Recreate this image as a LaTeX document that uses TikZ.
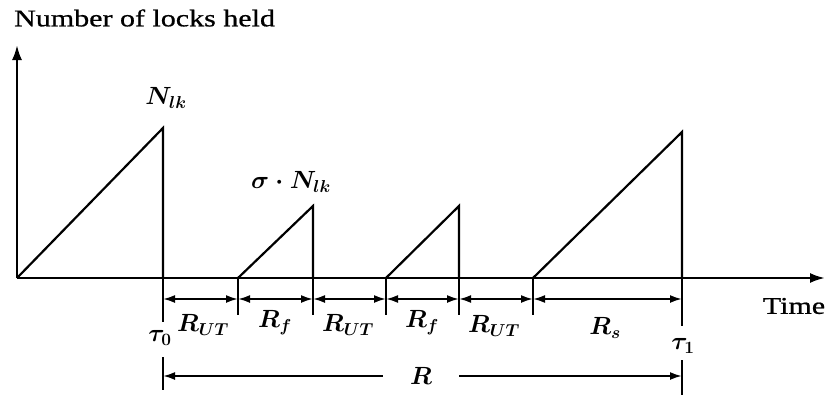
\documentclass[tikz,border=0pt]{standalone}
\usepackage{fontspec}
\setmainfont{Liberation Serif}
\newfontfamily\labfont[FakeStretch=1.25,FakeBold=0.8]{Liberation Serif}
\usetikzlibrary{arrows.meta}
\begin{document}
\begin{tikzpicture}[x=1pt,y=-1pt,
  curve/.style={line width=2.2pt},
  axis/.style={line width=2.4pt,-{Latex[length=15pt,width=10pt]}},
  dim/.style={line width=2pt,{Latex[length=12pt,width=8pt]}-{Latex[length=12pt,width=8pt]}},
  half/.style={line width=2pt,-{Latex[length=12pt,width=8pt]}},
  tick/.style={line width=2.2pt},
  lab/.style={font=\fontsize{25}{28}\selectfont\boldmath, inner sep=0pt},
  txt/.style={font=\labfont\fontsize{24}{27}\selectfont, inner sep=0pt}]
\useasboundingbox (0,0) rectangle (827,399);
% axes
\coordinate (O) at (17,278);
\coordinate (ytop) at (17,45);
\coordinate (xend) at (825,278);
\draw[axis] (O) -- (ytop);
\draw[axis] (O) -- (xend);
\node[txt, anchor=west] (ylab) at (14,18) {Number of locks held};
\node[txt] (xlab) at (794,306) {Time};
% teeth
\coordinate (a1) at (163,128); \coordinate (b1) at (163,278);
\coordinate (s2) at (238,278); \coordinate (a2) at (313,206); \coordinate (b2) at (313,278);
\coordinate (s3) at (386,278); \coordinate (a3) at (459,206); \coordinate (b3) at (459,278);
\coordinate (s4) at (533,278); \coordinate (a4) at (682,132); \coordinate (b4) at (682,278);
\draw[curve] (O) -- (a1) -- (b1);
\draw[curve] (s2) -- (a2) -- (b2);
\draw[curve] (s3) -- (a3) -- (b3);
\draw[curve] (s4) -- (a4) -- (b4);
\node[lab] (nlk) at (166,98) {$N_{lk}$};
\node[lab] (snlk) at (291,182) {$\sigma\cdot N_{lk}$};
% ticks and dimension arrows
\foreach \i/\x/\e in {1/163/322,2/238/315,3/313/315,4/386/315,5/459/315,6/533/315,7/682/326}{
  \coordinate (t\i) at (\x,278);
  \coordinate (d\i) at (\x,299);
  \coordinate (e\i) at (\x,\e);
  \draw[tick] (t\i) -- (e\i);
}
\draw[dim] (d1) -- (d2);
\draw[dim] (d2) -- (d3);
\draw[dim] (d3) -- (d4);
\draw[dim] (d4) -- (d5);
\draw[dim] (d5) -- (d6);
\draw[dim] (d6) -- (d7);
\node[lab] (r1) at (203,325) {$R_{UT}$};
\node[lab] (r2) at (275,323) {$R_f$};
\node[lab] (r3) at (348,325) {$R_{UT}$};
\node[lab] (r4) at (422,323) {$R_f$};
\node[lab] (r5) at (494,326) {$R_{UT}$};
\node[lab] (r6) at (605,328) {$R_s$};
\node[lab] (tau0) at (160,338) {$\tau_0$};
\node[lab] (tau1) at (683,346) {$\tau_1$};
% overall R
\coordinate (rl1) at (163,357); \coordinate (rl2) at (163,390);
\coordinate (rr1) at (682,360); \coordinate (rr2) at (682,395);
\draw[tick] (rl1) -- (rl2);
\draw[tick] (rr1) -- (rr2);
\node[lab, minimum width=76pt] (R) at (421,376) {$R$};
\coordinate (rla) at (163,376);
\coordinate (rra) at (682,376);
\draw[half] (R.west) -- (rla);
\draw[half] (R.east) -- (rra);
\end{tikzpicture}
\end{document}
